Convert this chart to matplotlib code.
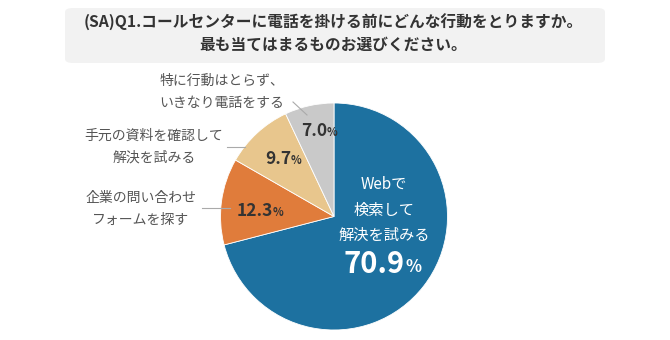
#!/usr/bin/env python3

import numpy as np
import matplotlib
matplotlib.use("Agg")
import matplotlib.pyplot as plt
from matplotlib.patches import FancyBboxPatch
from matplotlib.lines import Line2D

plt.rcParams['font.family'] = ['Noto Sans CJK JP', 'DejaVu Sans']

W, H = 670, 340

title_lines = [
  "(SA)Q1.コールセンターに電話を掛ける前にどんな行動をとりますか。",
  "最も当てはまるものお選びください。",
]

categories = [
  "Webで\n検索して\n解決を試みる",
  "企業の問い合わせ\nフォームを探す",
  "手元の資料を確認して\n解決を試みる",
  "特に行動はとらず、\nいきなり電話をする",
]
shares = [70.9, 12.3, 9.7, 7.0]

colors = [
  "#1d71a0",
  "#e07c3b",
  "#e8c68d",
  "#c9c9c9",
]

text_dark = "#333333"
text_gray = "#555555"
line_gray = "#aaaaaa"


def px(x, y):
  return x / W, 1 - y / H


fig = plt.figure(figsize=(W / 100, H / 100), dpi=100)

# title box
x0, y0 = px(65, 63)
x1, y1 = px(605, 8)
box = FancyBboxPatch(
  (x0, y0), x1 - x0, y1 - y0,
  boxstyle="round,pad=0,rounding_size=0.012",
  transform=fig.transFigure,
  fc="#f2f2f2",
  ec="none"
)
fig.patches.append(box)
for i, line in enumerate(title_lines):
  fig.text(
    *px(333, 22 + 23 * i),
    line,
    ha="center",
    va="center",
    fontsize=11.3,
    fontweight="bold",
    color=text_dark
  )

# pie
cx, cy, r = 334, 216.5, 113.5
ax = fig.add_axes([(cx - r) / W, (H - cy - r) / H, 2 * r / W, 2 * r / H])
wedges, _ = ax.pie(
  shares,
  colors=colors,
  startangle=90,
  counterclock=False,
  radius=1.0,
  wedgeprops=dict(ec="white", lw=0.6)
)
ax.set_xlim(-1, 1)
ax.set_ylim(-1, 1)
ax.set_aspect("equal")
ax.axis("off")

# big slice label
fig.text(*px(384, 210), categories[0], ha="center", va="center",
  fontsize=11, color="white", linespacing=1.65)
fig.text(*px(405, 264), "70.9", ha="right", va="center",
  fontsize=21, fontweight="bold", color="white")
fig.text(*px(405, 267), "%", ha="left", va="center",
  fontsize=12, fontweight="bold", color="white")

# small slice percentages
pct_pos = [(273, 211), (291, 159), (327, 131)]
for (x, y), v in zip(pct_pos, shares[1:]):
  fig.text(*px(x, y), "{:.1f}".format(v), ha="right", va="center",
    fontsize=12.5, fontweight="bold", color=text_dark)
  fig.text(*px(x, y + 2), "%", ha="left", va="center",
    fontsize=8, fontweight="bold", color=text_dark)

# outside labels with leader lines
label_pos = [(141, 209), (154, 147), (222, 92)]
leaders = [
  ((202, 208), (230, 208)),
  ((227, 147), (245, 147)),
  ((293, 102), (307, 115)),
]
for (x, y), txt, (a, b) in zip(label_pos, categories[1:], leaders):
  fig.text(*px(x, y), txt, ha="center", va="center",
    fontsize=10, color=text_gray, linespacing=1.7)
  (ax_, ay_), (bx_, by_) = px(*a), px(*b)
  fig.add_artist(Line2D([ax_, bx_], [ay_, by_], transform=fig.transFigure,
    color=line_gray, lw=0.8))

fig.savefig("out.png", dpi=100)
